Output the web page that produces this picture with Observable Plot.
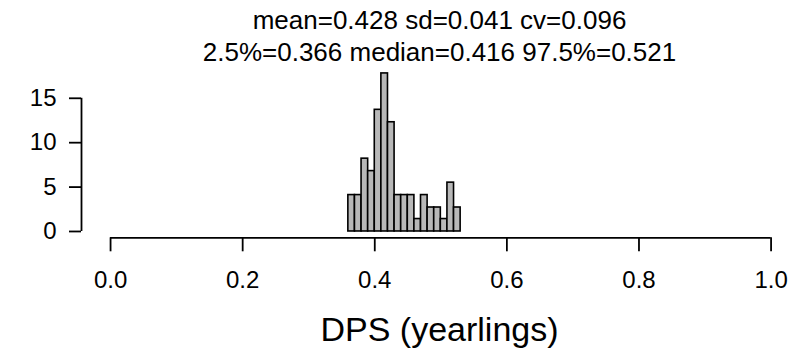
<!DOCTYPE html>
<html>
<head>
<meta charset="utf-8">
<script src="https://cdn.jsdelivr.net/npm/d3@7"></script>
<script src="https://cdn.jsdelivr.net/npm/@observablehq/plot@0.6"></script>
<style>
  html, body { margin: 0; padding: 0; background: #fff; }
  svg { font-family: "Liberation Sans", Arial, Helvetica, sans-serif; }
</style>
</head>
<body>
<div id="chart"></div>
<script>
// Histogram bins (left edges and right edges) and densities
const binStart = [0.36,0.37,0.38,0.39,0.40,0.41,0.42,0.43,0.44,0.45,0.46,0.47,0.48,0.49,0.50,0.51,0.52];
const binEnd   = [0.37,0.38,0.39,0.40,0.41,0.42,0.43,0.44,0.45,0.46,0.47,0.48,0.49,0.50,0.51,0.52,0.53];
const density  = [4.1,4.1,8.2,6.8,13.7,17.8,12.3,4.1,4.1,4.1,1.4,4.1,2.7,2.7,1.4,5.5,2.7];

const xTicks = [0.0, 0.2, 0.4, 0.6, 0.8, 1.0];
const yTicks = [0, 5, 10, 15];

const title1 = "mean=0.428 sd=0.041 cv=0.096";
const title2 = "2.5%=0.366 median=0.416 97.5%=0.521";
const xLabel = "DPS (yearlings)";

const bars = binStart.map((s, i) => ({x1: s, x2: binEnd[i], y: density[i]}));

const ymax = d3.max(density);
const yDomain = [-0.04 * ymax, ymax * 1.04];
const xDomain = [-0.044, 1.04];

const chart = Plot.plot({
  width: 811,
  height: 351,
  marginLeft: 81,
  marginRight: 14,
  marginTop: 66.6,
  marginBottom: 113.7,
  x: {domain: xDomain},
  y: {domain: yDomain},
  marks: [
    Plot.rectY(bars, {x1: "x1", x2: "x2", y1: 0, y2: "y", fill: "#b8b8b8", stroke: "black", strokeWidth: 1.6, inset: 0}),
    // axis lines (R style, spanning first to last tick)
    Plot.ruleY([yDomain[0]], {x1: xTicks[0], x2: xTicks[xTicks.length - 1], stroke: "black", strokeWidth: 1.8}),
    Plot.ruleX([xDomain[0]], {y1: yTicks[0], y2: yTicks[yTicks.length - 1], stroke: "black", strokeWidth: 1.8}),
    Plot.axisX(xTicks, {anchor: "bottom", tickSize: 14, tickPadding: 19, fontSize: 24, tickFormat: d3.format(".1f"), label: null, stroke: "black", strokeWidth: 1.8, fill: "black"}),
    Plot.axisY(yTicks, {anchor: "left", tickSize: 12, tickPadding: 13, fontSize: 24, label: null, stroke: "black", strokeWidth: 1.8, fill: "black"}),
    Plot.text([title1], {frameAnchor: "top", lineAnchor: "bottom", dy: -38.6, fontSize: 26, fill: "black", text: d => d}),
    Plot.text([title2], {frameAnchor: "top", lineAnchor: "bottom", dy: -6.6, fontSize: 26, fill: "black", text: d => d}),
    Plot.text([xLabel], {frameAnchor: "bottom", lineAnchor: "bottom", dy: 103, fontSize: 34, fill: "black", text: d => d})
  ]
});
document.getElementById("chart").appendChild(chart);
</script>
</body>
</html>
